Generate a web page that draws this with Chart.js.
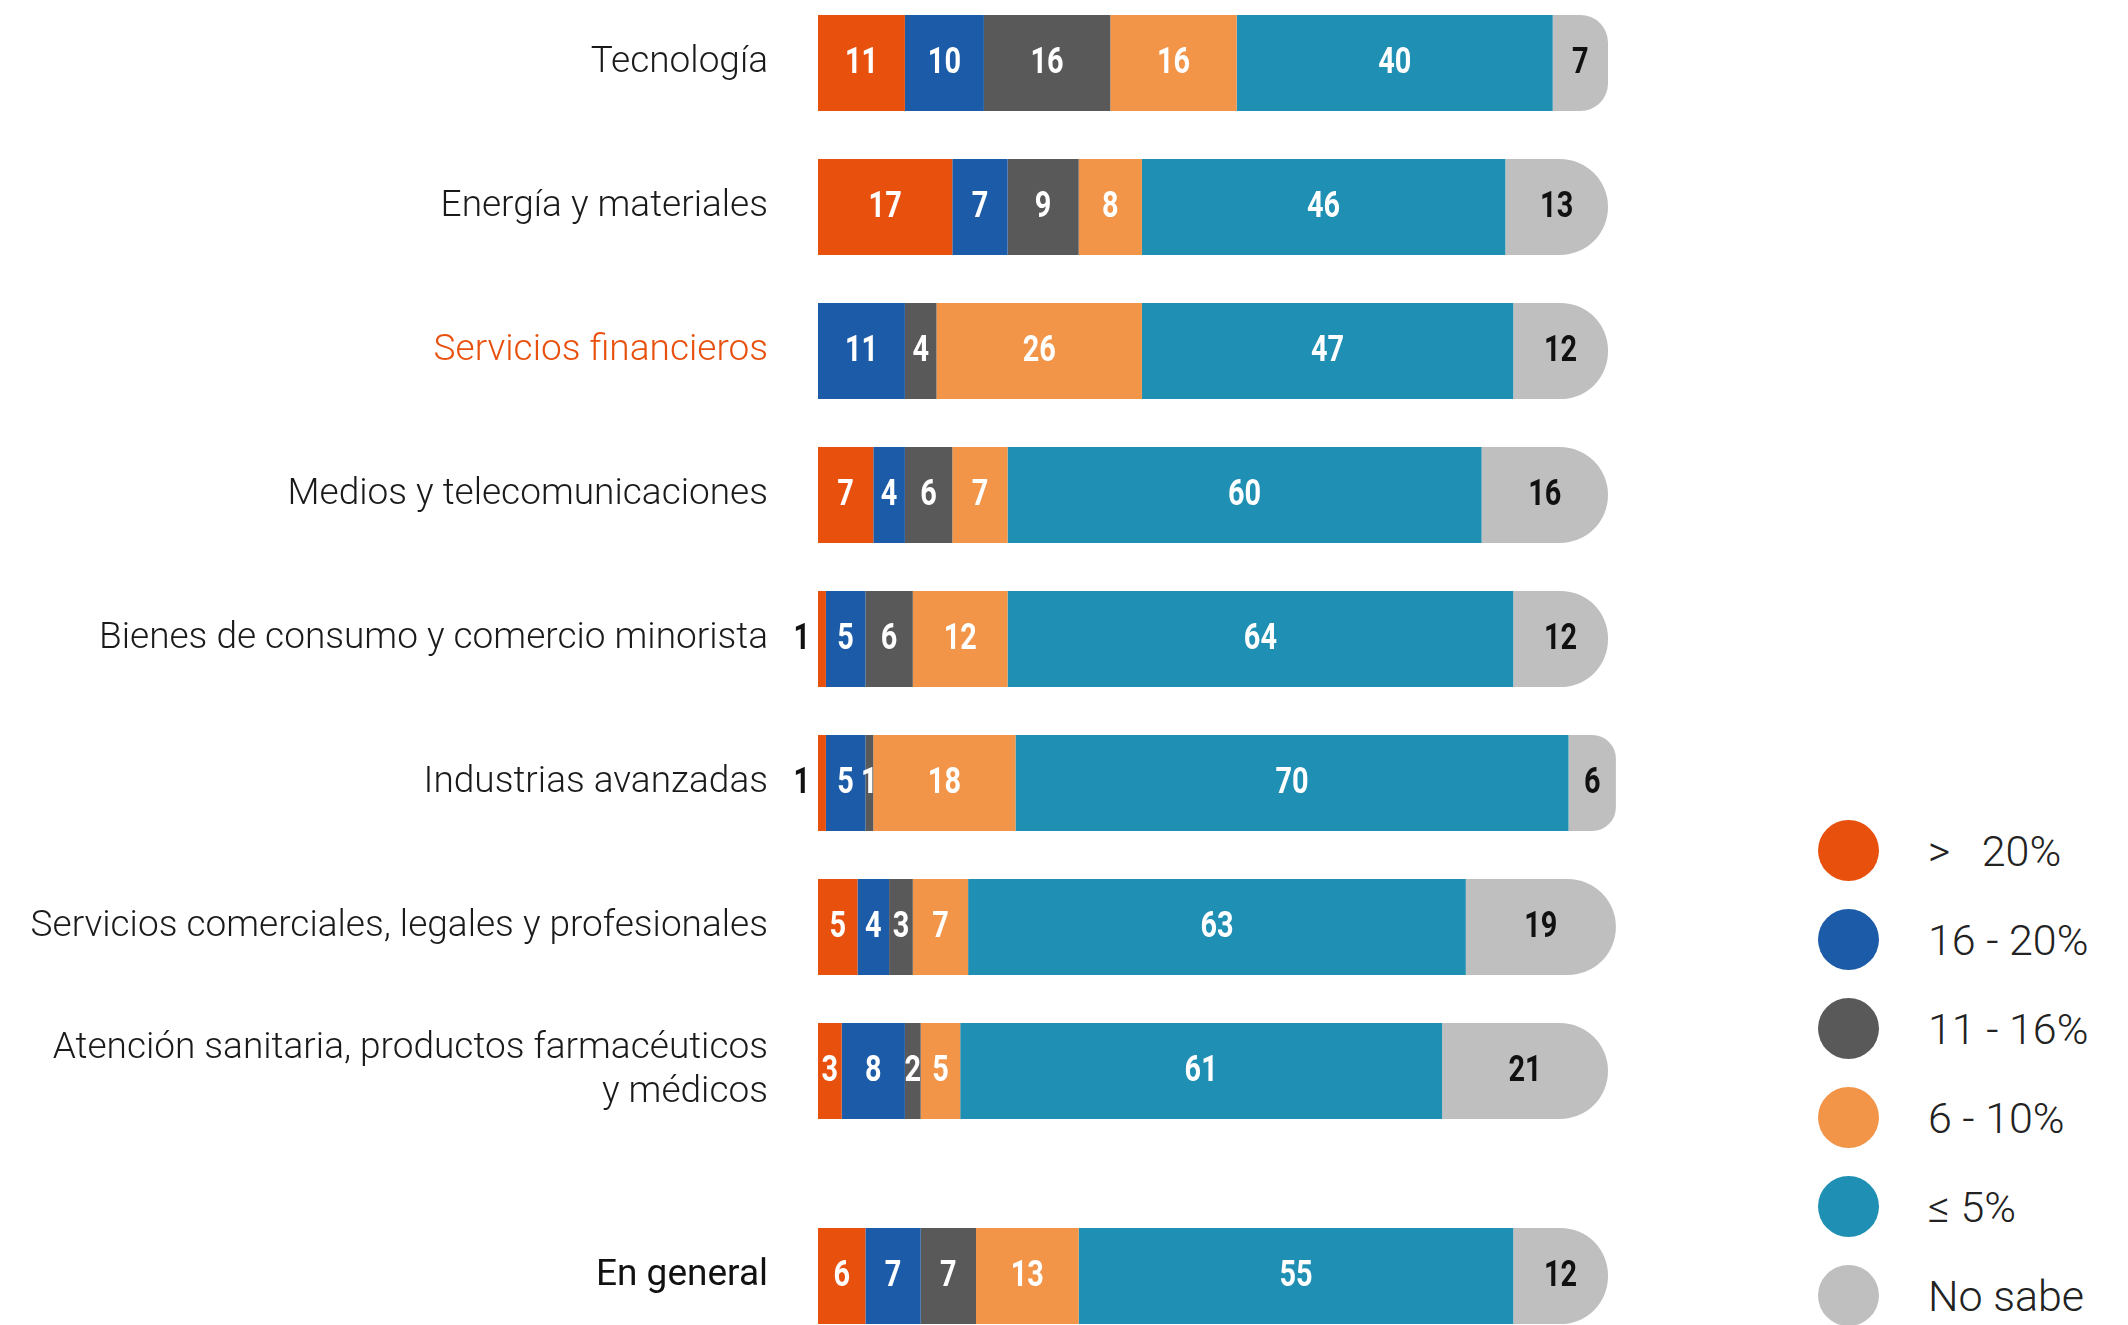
<!DOCTYPE html>
<html lang="es">
<head>
<meta charset="utf-8">
<title>Sectores</title>
<script src="https://cdn.jsdelivr.net/npm/chart.js@4.4.1/dist/chart.umd.min.js"></script>
<style>
  html, body { margin: 0; padding: 0; background: #fff; }
  body { position: relative; width: 2128px; height: 1325px; overflow: hidden; font-family: Roboto, sans-serif; }
  #main { position: absolute; left: 0; top: -9px; }
  #overall { position: absolute; left: 0; top: 1204px; }
  #legend { position: absolute; left: 1818px; top: 806px; margin: 0; padding: 0; list-style: none; }
  #legend li { height: 89px; display: flex; align-items: center; }
  #legend .dot { width: 61px; height: 61px; border-radius: 50%; margin-right: 49px; flex: none; }
  #legend .txt { font-weight: 300; font-size: 43px; color: #222; white-space: pre; }
</style>
</head>
<body>
<canvas id="main" width="1630" height="1152"></canvas>
<canvas id="overall" width="1630" height="144"></canvas>
<ul id="legend"></ul>
<script>
const sectors = [
  "Tecnología",
  "Energía y materiales",
  "Servicios financieros",
  "Medios y telecomunicaciones",
  "Bienes de consumo y comercio minorista",
  "Industrias avanzadas",
  "Servicios comerciales, legales y profesionales",
  ["Atención sanitaria, productos farmacéuticos", "y médicos"]
];
const ranges = [">   20%", "16 - 20%", "11 - 16%", "6 - 10%", "≤ 5%", "No sabe"];
const colors = ["#E8500E", "#1B5BA8", "#595959", "#F29549", "#1F8FB3", "#BFBFBF"];

// one array per range, in sector order
const over20 = [11, 17, 0, 7, 1, 1, 5, 3];
const from16to20 = [10, 7, 11, 4, 5, 5, 4, 8];
const from11to16 = [16, 9, 4, 6, 6, 1, 3, 2];
const from6to10 = [16, 8, 26, 7, 12, 18, 7, 5];
const upTo5 = [40, 46, 47, 60, 64, 70, 63, 61];
const noSabe = [7, 13, 12, 16, 12, 6, 19, 21];

const overallLabel = "En general";
const overall = [6, 7, 7, 13, 55, 12];

const highlighted = "Servicios financieros";

// narrow bold digits: Roboto bold squeezed horizontally
const numFont = "bold 37px Roboto, sans-serif";
const squeeze = 0.78;

// writes the number inside each segment; tiny first segments get it outside on the left
const valueLabels = {
  id: "valueLabels",
  afterDatasetsDraw(chart) {
    const ctx = chart.ctx;
    ctx.save();
    ctx.font = numFont;
    ctx.textBaseline = "middle";
    chart.data.datasets.forEach((ds, i) => {
      chart.getDatasetMeta(i).data.forEach((bar, j) => {
        const v = ds.data[j];
        if (!v) return;
        const { x, y, base } = bar.getProps(["x", "y", "base"], true);
        const text = String(v);
        const tw = ctx.measureText(text).width * squeeze;
        let px, align, color;
        if (i === 0 && tw > x - base + 4) {
          px = base - 8; align = "right"; color = "#111";
        } else {
          px = (x + base) / 2; align = "center";
          color = i === ranges.length - 1 ? "#111" : "#fff";
        }
        ctx.save();
        ctx.translate(px, y + 1);
        ctx.scale(squeeze, 1);
        ctx.textAlign = align;
        ctx.fillStyle = color;
        ctx.fillText(text, 0, 0);
        ctx.restore();
      });
    });
    ctx.restore();
  }
};

function buildDatasets(series) {
  return ranges.map((name, i) => ({
    label: name,
    data: series[i],
    backgroundColor: colors[i],
    borderWidth: 0,
    categoryPercentage: 1,
    barPercentage: 0.667,
    clip: false,
    borderRadius: i === ranges.length - 1 ? { topRight: 48, bottomRight: 48 } : 0,
    borderSkipped: false
  }));
}

function buildOptions(tickColor, tickWeight) {
  return {
    indexAxis: "y",
    responsive: false,
    animation: false,
    layout: { padding: { left: 0, right: 22, top: 0, bottom: 0 } },
    plugins: { legend: { display: false }, tooltip: { enabled: false } },
    scales: {
      x: { stacked: true, min: 0, max: 100, display: false },
      y: {
        stacked: true,
        grid: { display: false, drawTicks: true, tickLength: 50 },
        border: { display: false },
        afterFit(scale) {
          scale.width = 818;
          scale.paddingTop = 0;
          scale.paddingBottom = 0;
        },
        ticks: {
          padding: 0,
          color: tickColor,
          font: { family: "Roboto", size: 37, weight: tickWeight, lineHeight: 1.2 }
        }
      }
    }
  };
}

new Chart(document.getElementById("main"), {
  type: "bar",
  data: {
    labels: sectors,
    datasets: buildDatasets([over20, from16to20, from11to16, from6to10, upTo5, noSabe])
  },
  options: buildOptions(
    c => (sectors[c.index] === highlighted ? "#E8500E" : "#1a1a1a"),
    300
  ),
  plugins: [valueLabels]
});

new Chart(document.getElementById("overall"), {
  type: "bar",
  data: {
    labels: [overallLabel],
    datasets: buildDatasets(overall.map(v => [v]))
  },
  options: buildOptions("#111", 400),
  plugins: [valueLabels]
});

// legend
const legend = document.getElementById("legend");
ranges.forEach((name, i) => {
  const li = document.createElement("li");
  li.innerHTML = `<span class="dot" style="background:${colors[i]}"></span><span class="txt">${name}</span>`;
  legend.appendChild(li);
});
</script>
</body>
</html>
